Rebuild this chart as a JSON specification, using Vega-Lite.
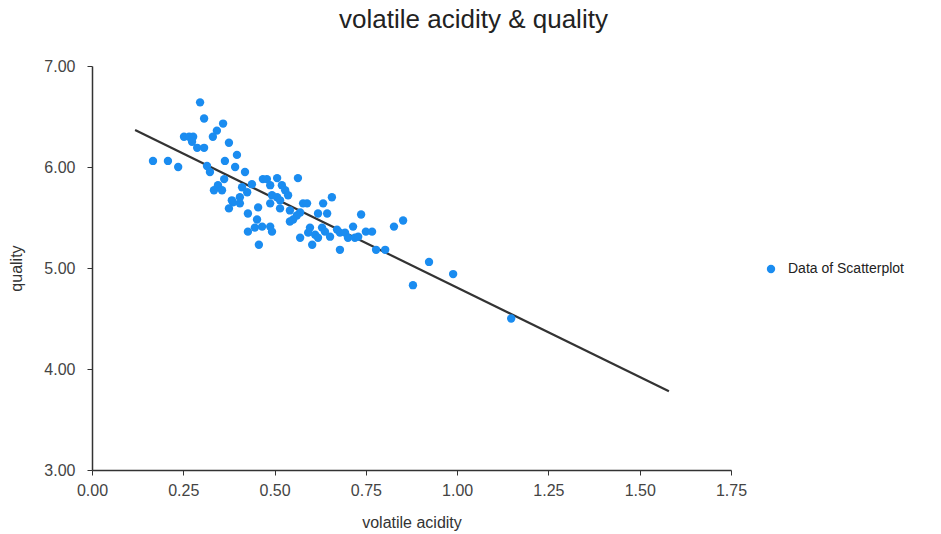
{
  "$schema": "https://vega.github.io/schema/vega-lite/v6.json",
  "width": 639,
  "height": 404,
  "autosize": "none",
  "padding": {"left": 92, "top": 66, "right": 210, "bottom": 64},
  "background": "white",
  "config": {
    "view": {"stroke": null},
    "font": "Liberation Sans",
    "axis": {"grid": false, "domainColor": "#333", "tickColor": "#333", "labelColor": "#444", "titleColor": "#333", "labelFontSize": 16, "titleFontSize": 16, "titleFontWeight": "normal", "tickSize": 5, "domainWidth": 1.5, "labelFlush": false}
  },
  "title": {"text": "volatile acidity & quality", "fontSize": 26, "fontWeight": "normal", "color": "#222", "anchor": "middle", "offset": 25, "dx": 62},
  "datasets": {
    "pts": [
      {"va": 0.167, "q": 6.06}, {"va": 0.208, "q": 6.06}, {"va": 0.236, "q": 6.00}, {"va": 0.296, "q": 6.64},
      {"va": 0.307, "q": 6.48}, {"va": 0.359, "q": 6.43}, {"va": 0.342, "q": 6.36}, {"va": 0.331, "q": 6.30},
      {"va": 0.252, "q": 6.30}, {"va": 0.266, "q": 6.30}, {"va": 0.277, "q": 6.30}, {"va": 0.274, "q": 6.25},
      {"va": 0.288, "q": 6.19}, {"va": 0.307, "q": 6.19}, {"va": 0.375, "q": 6.24}, {"va": 0.397, "q": 6.12},
      {"va": 0.364, "q": 6.06}, {"va": 0.315, "q": 6.01}, {"va": 0.323, "q": 5.95}, {"va": 0.392, "q": 6.00},
      {"va": 0.419, "q": 5.95}, {"va": 0.362, "q": 5.88}, {"va": 0.345, "q": 5.82}, {"va": 0.334, "q": 5.77},
      {"va": 0.356, "q": 5.77}, {"va": 0.468, "q": 5.88}, {"va": 0.479, "q": 5.88}, {"va": 0.507, "q": 5.89},
      {"va": 0.438, "q": 5.83}, {"va": 0.411, "q": 5.80}, {"va": 0.425, "q": 5.75}, {"va": 0.488, "q": 5.82},
      {"va": 0.520, "q": 5.82}, {"va": 0.529, "q": 5.77}, {"va": 0.564, "q": 5.89}, {"va": 0.537, "q": 5.72},
      {"va": 0.507, "q": 5.70}, {"va": 0.383, "q": 5.67}, {"va": 0.405, "q": 5.64}, {"va": 0.386, "q": 5.65},
      {"va": 0.375, "q": 5.59}, {"va": 0.405, "q": 5.70}, {"va": 0.455, "q": 5.60}, {"va": 0.488, "q": 5.64},
      {"va": 0.493, "q": 5.72}, {"va": 0.515, "q": 5.59}, {"va": 0.542, "q": 5.57}, {"va": 0.515, "q": 5.67},
      {"va": 0.578, "q": 5.64}, {"va": 0.589, "q": 5.64}, {"va": 0.570, "q": 5.55}, {"va": 0.561, "q": 5.52},
      {"va": 0.551, "q": 5.48}, {"va": 0.542, "q": 5.46}, {"va": 0.657, "q": 5.70}, {"va": 0.633, "q": 5.64},
      {"va": 0.619, "q": 5.54}, {"va": 0.644, "q": 5.54}, {"va": 0.427, "q": 5.54}, {"va": 0.452, "q": 5.48},
      {"va": 0.446, "q": 5.40}, {"va": 0.466, "q": 5.41}, {"va": 0.488, "q": 5.41}, {"va": 0.493, "q": 5.36},
      {"va": 0.427, "q": 5.36}, {"va": 0.457, "q": 5.23}, {"va": 0.570, "q": 5.30}, {"va": 0.597, "q": 5.40},
      {"va": 0.592, "q": 5.35}, {"va": 0.611, "q": 5.33}, {"va": 0.619, "q": 5.30}, {"va": 0.603, "q": 5.23},
      {"va": 0.630, "q": 5.40}, {"va": 0.638, "q": 5.36}, {"va": 0.652, "q": 5.31}, {"va": 0.671, "q": 5.38},
      {"va": 0.679, "q": 5.35}, {"va": 0.693, "q": 5.35}, {"va": 0.715, "q": 5.41}, {"va": 0.737, "q": 5.53},
      {"va": 0.679, "q": 5.18}, {"va": 0.701, "q": 5.30}, {"va": 0.720, "q": 5.30}, {"va": 0.827, "q": 5.41},
      {"va": 0.852, "q": 5.47}, {"va": 0.729, "q": 5.31}, {"va": 0.750, "q": 5.36}, {"va": 0.767, "q": 5.36},
      {"va": 0.778, "q": 5.18}, {"va": 0.803, "q": 5.18}, {"va": 0.923, "q": 5.06}, {"va": 0.989, "q": 4.94},
      {"va": 0.879, "q": 4.83}, {"va": 1.148, "q": 4.50}
    ],
    "fit": [
      {"va": 0.118, "q": 6.366},
      {"va": 1.58, "q": 3.78}
    ]
  },
  "layer": [
    {
      "data": {"name": "fit"},
      "mark": {"type": "line", "color": "#333333", "strokeWidth": 2.2},
      "encoding": {
        "x": {"field": "va", "type": "quantitative"},
        "y": {"field": "q", "type": "quantitative"}
      }
    },
    {
      "data": {"name": "pts"},
      "transform": [{"calculate": "'Data of Scatterplot'", "as": "series"}],
      "mark": {"type": "circle", "size": 70, "opacity": 1},
      "encoding": {
        "x": {"field": "va", "type": "quantitative", "title": "volatile acidity",
              "scale": {"domain": [0, 1.75], "nice": false, "zero": false},
              "axis": {"values": [0, 0.25, 0.5, 0.75, 1, 1.25, 1.5, 1.75], "format": ".2f", "titlePadding": 16, "labelPadding": 7}},
        "y": {"field": "q", "type": "quantitative", "title": "quality",
              "scale": {"domain": [3, 7], "nice": false, "zero": false},
              "axis": {"values": [3, 4, 5, 6, 7], "format": ".2f", "titlePadding": 19, "labelPadding": 12}},
        "color": {"field": "series", "type": "nominal",
                  "scale": {"range": ["#1a8cf0"]},
                  "legend": {"title": null, "orient": "none", "legendX": 672, "legendY": 196, "labelFontSize": 14, "labelColor": "#222", "symbolSize": 70, "symbolType": "circle", "labelOffset": 10}}
      }
    }
  ]
}
